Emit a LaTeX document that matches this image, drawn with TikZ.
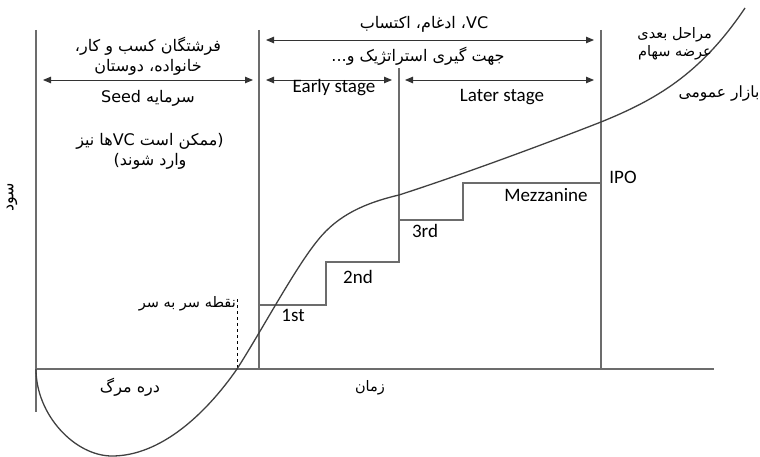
\documentclass[tikz,border=0pt]{standalone}
\usepackage{fontspec}
\setmainfont{Carlito}
\newfontfamily\fafont[Script=Arabic]{DejaVu Sans}
\TeXXeTstate=1
\usepackage{tikz}
\usetikzlibrary{arrows.meta,positioning}
\newcommand{\fa}[1]{{\fafont\beginR #1\endR}}
\tikzset{
  axisline/.style={draw=gray!85!black, line width=1.1pt},
  profitcurve/.style={draw=black!75, line width=1.3pt},
  spanarrow/.style={<->, >={Triangle[length=8pt,width=6.5pt]}, draw=black!80, line width=0.9pt},
  lattxt/.style={font=\fontsize{19}{22}\selectfont, inner sep=1pt},
  fatxt/.style={font=\fafont\fontsize{16}{20}\selectfont, inner sep=1pt, align=center},
  fasmall/.style={fatxt, font=\fafont\fontsize{14.5}{18}\selectfont}
}
\begin{document}
\begin{tikzpicture}[x=1pt, y=-1pt]
  \useasboundingbox (0,0) rectangle (760,457);

  % Frame lines
  \coordinate (ytop) at (36,30);
  \coordinate (ybot) at (36,412);
  \coordinate (orig) at (36,369);
  \coordinate (xend) at (714,369);
  \coordinate (seedtop) at (259,30);
  \coordinate (seedbot) at (259,369);
  \coordinate (ipotop) at (601,30);
  \coordinate (ipobot) at (601,369);
  \coordinate (midtop) at (399,68);
  \draw[axisline] (ytop) -- (ybot);
  \draw[axisline] (orig) -- (xend);
  \draw[axisline] (seedtop) -- (seedbot);
  \draw[axisline] (ipotop) -- (ipobot);

  % Funding rounds
  \coordinate (r1a) at (259,305);
  \coordinate (r1b) at (326,305);
  \coordinate (r2a) at (326,262);
  \coordinate (r2b) at (399,262);
  \coordinate (r3a) at (399,220);
  \coordinate (r3b) at (463,220);
  \coordinate (r4a) at (463,183);
  \coordinate (r4b) at (601,183);
  \draw[axisline] (r1a) -- (r1b) -- (r2a) -- (r2b) -- (midtop);
  \draw[axisline] (r3a) -- (r3b) -- (r4a) -- (r4b);

  % Break-even
  \coordinate (betop) at (237,299);
  \coordinate (bebot) at (237,369);
  \draw[black, dashed, line width=0.6pt] (betop) -- (bebot);

  % Span arrows
  \coordinate (seedl) at (43,80);
  \coordinate (seedr) at (253,80);
  \coordinate (vcl) at (266,40);
  \coordinate (vcr) at (594,40);
  \coordinate (earlyl) at (266,80);
  \coordinate (earlyr) at (392,80);
  \coordinate (laterl) at (405,80);
  \coordinate (laterr) at (594,80);
  \draw[spanarrow] (seedl) -- (seedr);
  \draw[spanarrow] (vcl) -- (vcr);
  \draw[spanarrow] (earlyl) -- (earlyr);
  \draw[spanarrow] (laterl) -- (laterr);

  % Curve
  \draw[profitcurve] (orig) .. controls (36,415) and (75,456) .. (112,456)
    .. controls (160,456) and (205,415) .. (237,369)
    .. controls (262,330) and (295,268) .. (318,240)
    .. controls (338,215) and (365,203) .. (399,195)
    .. controls (470,172) and (555,140) .. (601,122)
    .. controls (655,100) and (700,75) .. (745,8);

  % Labels
  \node[fatxt] (angels) at (148,56) {\fa{فرشتگان کسب و کار،}\\\fa{خانواده، دوستان}};
  \node[fatxt] (seedcap) at (148,98) {\fa{سرمایه \beginL Seed\endL}};
  \node[fatxt] (vcmaybe) at (150,151) {\fa{(ممکن است \beginL VC\endL ها نیز}\\\fa{وارد شوند)}};
  \node[fatxt] (vcmerge) at (424,24) {\fa{\beginL VC\endL، ادغام، اکتساب}};
  \node[fatxt] (strat) at (418,56) {\fa{جهت گیری استراتژیک و...}};
  \node[lattxt] (early) at (334,88) {Early stage};
  \node[lattxt] (later) at (502,97) {Later stage};
  \node[fasmall, align=right, anchor=east] (nextst) at (713,44) {\fa{مراحل بعدی}\\\fa{عرضه سهام}};
  \node[fatxt, font=\fafont\fontsize{15.5}{20}\selectfont] (pubmkt) at (719,94) {\fa{بازار عمومی}};
  \node[lattxt] (ipo) at (623,177) {IPO};
  \node[lattxt] (mezz) at (546,195) {Mezzanine};
  \node[lattxt] (third) at (425,231) {3rd};
  \node[lattxt] (second) at (358,277) {2nd};
  \node[lattxt] (first) at (293,315) {1st};
  \node[fasmall, anchor=east] (breakeven) at (237,304) {\fa{نقطه سر به سر}};
  \node[fatxt, rotate=90] (profit) at (12,197) {\fa{سود}};
  \node[fatxt] (valley) at (130,387) {\fa{دره مرگ}};
  \node[fasmall] (timeax) at (370,388) {\fa{زمان}};
\end{tikzpicture}
\end{document}
